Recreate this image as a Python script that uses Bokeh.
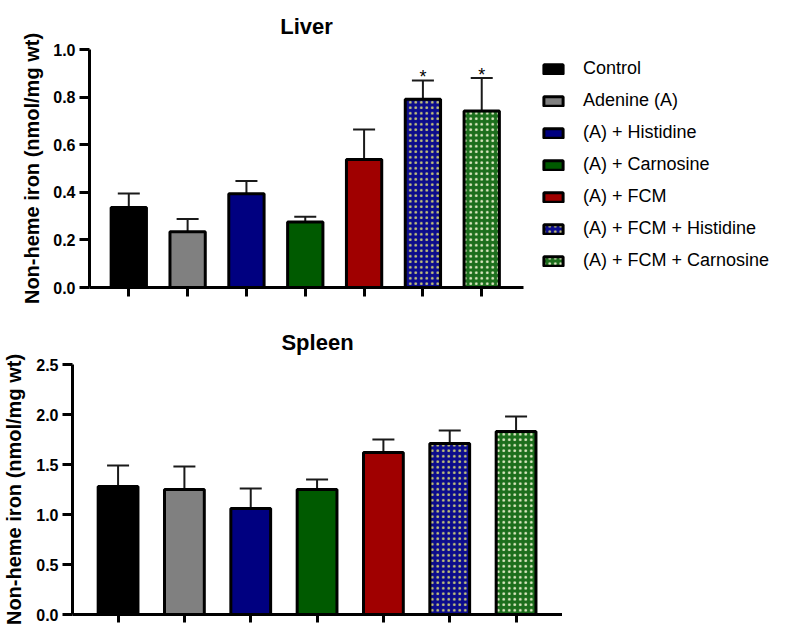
from bokeh.plotting import figure
from bokeh.models import (ColumnDataSource, Range1d, FixedTicker, Legend, LegendItem,
                          Whisker, TeeHead)
from bokeh.layouts import column, row
from bokeh.embed import file_html
from bokeh.resources import INLINE
from bokeh.core.properties import value

# ---------------- data ----------------
groups = ["Control", "Adenine (A)", "(A) + Histidine", "(A) + Carnosine",
          "(A) + FCM", "(A) + FCM + Histidine", "(A) + FCM + Carnosine"]
liver_mean = [0.336, 0.234, 0.394, 0.275, 0.538, 0.791, 0.742]
liver_upper = [0.395, 0.288, 0.448, 0.297, 0.664, 0.870, 0.880]
liver_sig = ["", "", "", "", "", "*", "*"]
spleen_mean = [1.28, 1.25, 1.06, 1.25, 1.62, 1.71, 1.83]
spleen_upper = [1.49, 1.48, 1.26, 1.35, 1.75, 1.84, 1.98]
liver_yticks = [0.0, 0.2, 0.4, 0.6, 0.8, 1.0]
liver_ytick_labels = ["0.0", "0.2", "0.4", "0.6", "0.8", "1.0"]
spleen_yticks = [0.0, 0.5, 1.0, 1.5, 2.0, 2.5]
spleen_ytick_labels = ["0.0", "0.5", "1.0", "1.5", "2.0", "2.5"]
y_label = "Non-heme iron (nmol/mg wt)"

# ---------------- styles ----------------
bar_colors = ["#000000", "#808080", "#000080", "#005a00", "#a00000", "#0c0c8c", "#1c6e1c"]
bar_hatch = [" ", " ", " ", " ", " ", ".", "."]
hatch_colors = ["#ffffff", "#ffffff", "#ffffff", "#ffffff", "#ffffff", "#c8c878", "#e4ecc8"]
FONT = "Liberation Sans"
positions = [i + 1 for i in range(len(groups))]


def make_panel(title, means, uppers, yticks, ylabels, ymax, x_start, x_end,
               frame_w, frame_h, borders, title_standoff, ylab_size, ylab_standoff):
    p = figure(frame_width=frame_w, frame_height=frame_h,
               output_backend="svg", toolbar_location=None,
               x_range=Range1d(x_start, x_end), y_range=Range1d(0, ymax),
               min_border_left=borders[0], min_border_right=borders[1],
               min_border_top=borders[2], min_border_bottom=borders[3])
    p.outline_line_color = None
    p.grid.visible = False
    p.background_fill_color = "white"
    p.border_fill_color = "white"

    src = ColumnDataSource(dict(x=positions, top=means, upper=uppers, color=bar_colors,
                                hatch=bar_hatch, hcolor=hatch_colors, name=groups))
    r = p.vbar(x="x", top="top", bottom=0, width=0.6, source=src,
               fill_color="color", line_color="black", line_width=3,
               hatch_pattern="hatch", hatch_color="hcolor", hatch_scale=5.5,
               hatch_weight=1)

    w = Whisker(base="x", lower="top", upper="upper", source=src, dimension="height",
                line_color="#1a1a1a", line_width=2, lower_head=None,
                upper_head=TeeHead(size=22, line_color="#1a1a1a", line_width=2))
    p.add_layout(w)

    p.title.text = title
    p.title.align = "center"
    p.title.text_font = FONT
    p.title.text_font_size = "22px"
    p.title.text_font_style = "bold"
    p.title.text_color = "black"
    p.title.standoff = title_standoff

    ya = p.yaxis[0]
    ya.ticker = FixedTicker(ticks=yticks)
    ya.major_label_overrides = {t: l for t, l in zip(yticks, ylabels)}
    ya.minor_tick_line_color = None
    ya.minor_tick_out = 0
    ya.major_tick_in = 0
    ya.major_tick_out = 10
    ya.major_tick_line_width = 3
    ya.major_tick_line_color = "black"
    ya.axis_line_width = 3
    ya.axis_line_color = "black"
    ya.major_label_standoff = 4
    ya.major_label_text_font = FONT
    ya.major_label_text_font_style = "bold"
    ya.major_label_text_font_size = "16px"
    ya.major_label_text_color = "black"
    ya.axis_label = y_label
    ya.axis_label_text_font = FONT
    ya.axis_label_text_font_style = "bold"
    ya.axis_label_text_font_size = ylab_size
    ya.axis_label_text_color = "black"
    ya.axis_label_standoff = ylab_standoff

    xa = p.xaxis[0]
    xa.ticker = FixedTicker(ticks=positions)
    xa.major_label_overrides = {x: "" for x in positions}
    xa.major_label_text_font_size = "2px"
    xa.major_label_standoff = 0
    xa.minor_tick_line_color = None
    xa.minor_tick_out = 0
    xa.major_tick_in = 0
    xa.major_tick_out = 9
    xa.major_tick_line_width = 3
    xa.major_tick_line_color = "black"
    xa.axis_line_width = 3
    xa.axis_line_color = "black"
    return p, r


# Liver: frame x 89..523, y 49..287 ; figure height 310
p1, r1 = make_panel("Liver", liver_mean, liver_upper, liver_yticks, liver_ytick_labels,
                    1.0, 0.332, 7.71, 434, 238, (89, 0, 49, 23), 22, "20px", 7)

sig_src = ColumnDataSource(dict(x=positions, y=liver_upper, t=liver_sig))
p1.text(x="x", y="y", text="t", source=sig_src, text_align="center",
        text_baseline="alphabetic", y_offset=-3, text_font=value(FONT),
        text_font_size="18px", text_color="black")

items = [LegendItem(label=g, renderers=[r1], index=i) for i, g in enumerate(groups)]
legend = Legend(items=items, location=(18, 16), orientation="vertical",
                glyph_width=24, glyph_height=12, label_standoff=18,
                label_text_font=FONT, label_text_font_size="18px",
                label_text_color="black", label_height=20, spacing=11,
                padding=0, margin=0, border_line_alpha=0, background_fill_alpha=0)
p1.add_layout(legend, "right")

# Spleen: frame x 68..558, y 364..614 ; figure starts at y 310
p2, r2 = make_panel("Spleen", spleen_mean, spleen_upper, spleen_yticks, spleen_ytick_labels,
                    2.5, 0.313, 7.70, 490, 250, (68, 0, 54, 12), 19, "20px", 8)
p2.xaxis[0].major_tick_out = 8

layout = column(p1, row(p2))
open("out.html", "w").write(file_html(layout, INLINE))
